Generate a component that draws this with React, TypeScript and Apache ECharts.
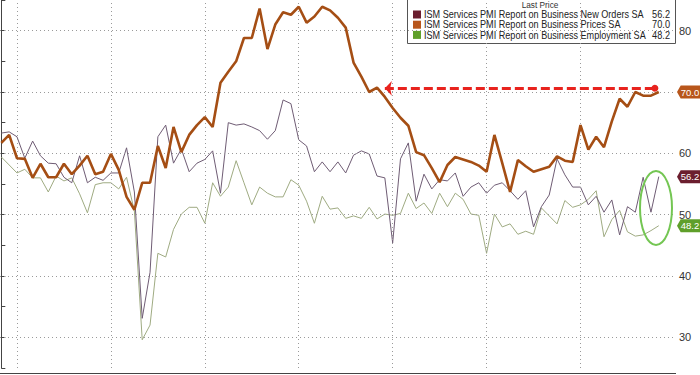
import React, { useEffect, useRef } from "react";
import * as echarts from "echarts";

// Monthly observations, Oct 2018 .. Oct 2025 (85 months)
const startYear = 2018;
const startMonth = 10;
const months: string[] = [];
for (let k = 0; k < 85; k++) {
  const m0 = startMonth - 1 + k;
  const y = startYear + Math.floor(m0 / 12);
  const m = (m0 % 12) + 1;
  months.push(`${y}-${String(m).padStart(2, "0")}`);
}

const prices: number[] = [
  61.7, 63.0, 59.2, 59.1, 56.0, 58.3, 56.1, 56.1, 58.3, 56.6,
  58.0, 59.6, 56.6, 57.0, 59.9, 57.3, 52.9, 50.8, 55.2, 55.2,
  61.2, 57.6, 64.3, 60.2, 63.0, 64.6, 65.9, 64.3, 71.5, 73.3,
  75.0, 78.8, 78.8, 83.6, 77.0, 81.0, 83.0, 82.6, 83.9, 81.3,
  82.3, 83.9, 83.3, 82.1, 80.5, 74.8, 72.5, 70.0, 70.7, 69.2,
  67.4, 65.8, 64.5, 60.2, 59.7, 57.6, 55.3, 58.1, 59.4, 59.0,
  58.6, 58.0, 57.0, 63.0, 58.4, 53.7, 58.9, 57.9, 57.0, 57.4,
  57.8, 59.5, 58.8, 58.6, 64.6, 60.6, 62.7, 61.0, 65.2, 68.9,
  67.6, 70.0, 69.4, 69.4, 70.0,
];

const newOrders: number[] = [
  63.3, 63.5, 62.7, 59.2, 62.0, 59.6, 58.4, 58.3, 56.1, 55.2,
  59.6, 55.2, 56.1, 55.6, 56.8, 56.8, 60.9, 53.7, 33.1, 40.6,
  62.7, 64.6, 58.4, 60.7, 57.0, 58.4, 59.0, 60.4, 53.5, 65.0,
  64.6, 64.8, 64.3, 63.7, 62.3, 63.7, 68.7, 68.1, 62.2, 61.2,
  57.0, 58.6, 57.0, 58.6, 56.8, 59.7, 60.4, 59.9, 56.3, 56.0,
  45.4, 59.1, 61.7, 52.2, 56.6, 54.2, 55.7, 55.5, 56.8, 53.0,
  54.5, 55.2, 53.5, 54.8, 55.2, 53.9, 52.5, 53.9, 48.0, 51.3,
  53.2, 59.1, 56.5, 54.5, 54.5, 51.6, 53.0, 50.4, 52.4, 46.7,
  51.3, 50.4, 56.1, 50.4, 56.2,
];

const employment: number[] = [
  59.4, 58.1, 56.8, 57.4, 56.0, 56.0, 53.7, 56.3, 55.5, 56.0,
  53.4, 50.3, 54.9, 55.2, 55.2, 54.2, 56.1, 50.6, 29.6, 32.0,
  43.7, 43.1, 47.6, 50.1, 51.2, 51.2, 48.6, 55.2, 53.0, 54.5,
  58.8, 55.2, 51.6, 54.5, 53.5, 52.9, 52.9, 55.7, 54.8, 52.2,
  48.6, 53.0, 50.9, 51.1, 49.4, 49.8, 49.4, 51.2, 49.3, 50.1,
  49.9, 50.2, 53.5, 51.0, 51.9, 50.2, 53.5, 51.3, 53.5, 52.5,
  50.1, 49.9, 43.7, 50.1, 48.0, 48.5, 46.8, 47.3, 46.8, 51.1,
  49.8, 48.5, 52.3, 51.2, 51.6, 52.5, 53.9, 46.4, 49.2, 50.7,
  47.2, 46.5, 46.7, 47.4, 48.2,
];

const seriesNames = [
  "ISM Services PMI Report on Business New Orders SA",
  "ISM Services PMI Report on Business Prices SA",
  "ISM Services PMI Report on Business Employment SA",
];
const yGridValues = [30, 40, 50, 60, 70, 80];
// 70 is covered by the Prices last-value tag in the reference
const yLabelValues = [30, 40, 50, 60, 80];
const gridYears = [2019, 2020, 2021, 2022, 2023, 2024, 2025];
// arrow annotation: from Nov 2022 level to the latest month
const arrowLevel = 70.6;
const arrowFrom = "2022-11";

const X_MIN = -0.17;
const X_MAX = 86.2;

const C_NEW = "#6f5c74";
const C_PRICE = "#a54e14";
const C_EMP = "#9fab82";
const TAG_NEW = "#6b1e2e";
const TAG_PRICE = "#b8561b";
const TAG_EMP = "#5f9f2a";

const tagPath = "path://M0,5 L4,0 L26,0 L26,10 L4,10 Z";

function pairs(arr: number[]) {
  return arr.map((v, i) => [i, v]);
}

function tag(value: number, color: string) {
  return {
    silent: true,
    symbol: tagPath,
    symbolSize: [24, 13],
    symbolOffset: [13, 0],
    itemStyle: { color },
    label: {
      show: true,
      formatter: value.toFixed(1),
      color: "#fff",
      fontSize: 9.5,
      fontFamily: "Liberation Sans",
      offset: [1, 0],
    },
    data: [{ coord: [X_MAX, value] }],
  };
}

export default function App() {
  const ref = useRef<HTMLDivElement>(null);
  useEffect(() => {
    if (!ref.current) return;
    const chart = echarts.init(ref.current, null, { renderer: "svg" });
    const last = (a: number[]) => a[a.length - 1];
    const xGrid = gridYears.map((y) => months.indexOf(`${y - 1}-12`));
    const legendRows = [
      { name: seriesNames[0], val: last(newOrders).toFixed(1), color: TAG_NEW },
      { name: seriesNames[1], val: last(prices).toFixed(1), color: TAG_PRICE },
      { name: seriesNames[2], val: last(employment).toFixed(1), color: TAG_EMP },
    ];
    const txt = {
      fontSize: 10,
      fontFamily: "Liberation Sans",
      fill: "#222",
      verticalAlign: "middle",
    };
    const legendEls: any[] = [
      {
        type: "rect",
        shape: { x: 407.5, y: -5, width: 268, height: 48.5 },
        style: { fill: "#fff", stroke: "#555", lineWidth: 1 },
      },
      {
        type: "text",
        x: 540,
        y: 5,
        scaleX: 0.92,
        style: { ...txt, fontSize: 9, text: "Last Price", fill: "#333", align: "center" },
      },
    ];
    legendRows.forEach((r, k) => {
      const cy = 14.5 + k * 10.2;
      legendEls.push({
        type: "rect",
        shape: { x: 413, y: cy - 4, width: 8, height: 8 },
        style: { fill: r.color },
      });
      legendEls.push({
        type: "text",
        x: 424,
        y: cy,
        scaleX: 0.91,
        style: { ...txt, text: r.name },
      });
      legendEls.push({
        type: "text",
        x: 670,
        y: cy,
        scaleX: 0.92,
        style: { ...txt, text: r.val, align: "right" },
      });
    });

    chart.setOption({
      animation: false,
      backgroundColor: "#fff",
      grid: { left: 0, right: 24, top: 0, bottom: 7 },
      xAxis: {
        type: "value",
        min: X_MIN,
        max: X_MAX,
        show: false,
        splitLine: { show: false },
      },
      yAxis: {
        type: "value",
        position: "right",
        min: 25,
        max: 85,
        interval: 5,
        splitLine: { show: false },
        axisLine: { show: true, lineStyle: { color: "#444", width: 1 } },
        axisTick: { show: true, length: 4, inside: false, lineStyle: { color: "#444" } },
        axisLabel: {
          color: "#333",
          fontSize: 11,
          margin: 3,
          fontFamily: "Liberation Sans",
          formatter: (v: number) => (yLabelValues.includes(v) ? String(v) : ""),
        },
      },
      graphic: [
        {
          type: "line",
          shape: { x1: 0, y1: 373.5, x2: 676, y2: 373.5 },
          style: { stroke: "#444", lineWidth: 1 },
          z: 10,
        },
        {
          type: "ellipse",
          shape: { cx: 656, cy: 208, rx: 16, ry: 37 },
          style: { fill: "none", stroke: "#74c653", lineWidth: 2 },
          z: 20,
        },
        { type: "group", z: 30, children: legendEls },
      ],
      series: [
        {
          name: "grid",
          type: "line",
          data: [[0, 50]],
          symbol: "none",
          lineStyle: { opacity: 0 },
          silent: true,
          z: 1,
          markLine: {
            silent: true,
            symbol: "none",
            label: { show: false },
            lineStyle: { color: "#9a9a9a", type: [1, 3], width: 1 },
            data: [
              ...yGridValues.map((v) => ({ yAxis: v })),
              ...xGrid.map((i) => ({ xAxis: i })),
            ],
          },
        },
        {
          name: seriesNames[2],
          type: "line",
          data: pairs(employment),
          symbol: "none",
          lineStyle: { color: C_EMP, width: 1 },
          z: 3,
          markPoint: tag(last(employment), TAG_EMP),
        },
        {
          name: seriesNames[0],
          type: "line",
          data: pairs(newOrders),
          symbol: "none",
          lineStyle: { color: C_NEW, width: 1 },
          z: 4,
          markPoint: tag(last(newOrders), TAG_NEW),
        },
        {
          name: seriesNames[1],
          type: "line",
          data: pairs(prices),
          symbol: "none",
          lineStyle: { color: C_PRICE, width: 2.6 },
          z: 5,
          markPoint: tag(last(prices), TAG_PRICE),
          markLine: {
            silent: true,
            symbol: ["arrow", "circle"],
            symbolSize: [11, 7],
            label: { show: false },
            lineStyle: { color: "#e8231e", type: [9, 4], width: 3 },
            data: [
              [
                { coord: [months.indexOf(arrowFrom), arrowLevel] },
                { coord: [months.length - 1.5, arrowLevel] },
              ],
            ],
          },
        },
      ],
    });
    return () => chart.dispose();
  }, []);
  return (
    <div
      ref={ref}
      style={{ position: "fixed", left: 0, top: 0, width: 700, height: 375 }}
    />
  );
}
